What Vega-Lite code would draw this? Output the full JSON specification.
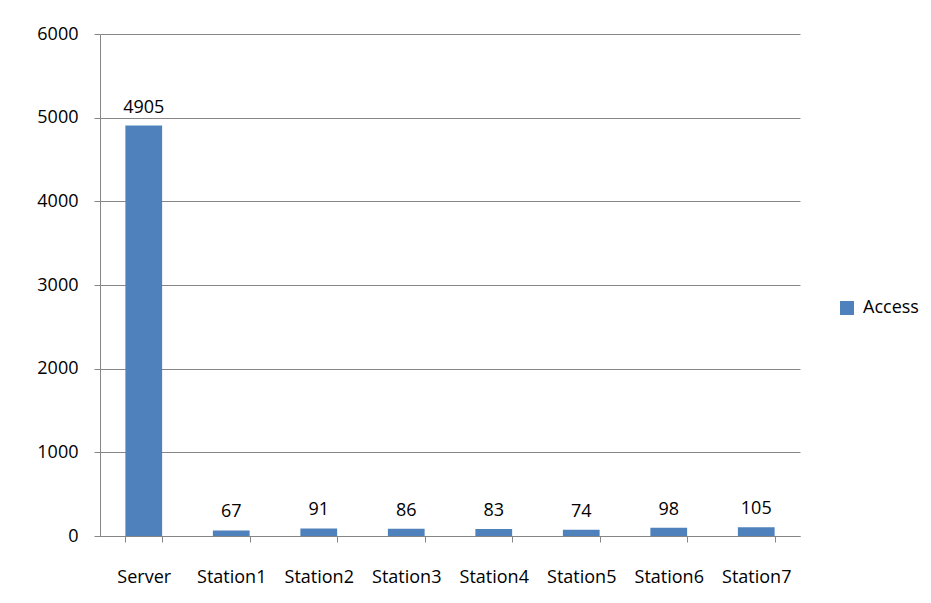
{
  "$schema": "https://vega.github.io/schema/vega-lite/v6.json",
  "width": 700,
  "height": 502,
  "autosize": {"type": "none"},
  "padding": {"left": 100, "top": 34, "right": 131, "bottom": 67},
  "background": "white",
  "config": {
    "view": {"stroke": null},
    "font": "Open Sans",
    "axis": {"labelFont": "Open Sans", "labelFontSize": 18, "labelColor": "#000000"}
  },
  "data": {
    "values": [
      {"name": "Server", "series": "Access", "value": 4905},
      {"name": "Station1", "series": "Access", "value": 67},
      {"name": "Station2", "series": "Access", "value": 91},
      {"name": "Station3", "series": "Access", "value": 86},
      {"name": "Station4", "series": "Access", "value": 83},
      {"name": "Station5", "series": "Access", "value": 74},
      {"name": "Station6", "series": "Access", "value": 98},
      {"name": "Station7", "series": "Access", "value": 105}
    ]
  },
  "encoding": {
    "x": {
      "field": "name",
      "type": "nominal",
      "sort": null,
      "scale": {"paddingInner": 0.58, "paddingOuter": 0.29},
      "axis": {
        "title": null,
        "labelAngle": 0,
        "domainColor": "#868686",
        "tickColor": "#868686",
        "tickBand": "extent",
        "tickSize": 6,
        "labelPadding": 26
      }
    },
    "y": {
      "field": "value",
      "type": "quantitative",
      "scale": {"domain": [0, 6000]},
      "axis": {
        "title": null,
        "values": [0, 1000, 2000, 3000, 4000, 5000, 6000],
        "format": "d",
        "domainColor": "#868686",
        "tickColor": "#868686",
        "gridColor": "#868686",
        "tickSize": 6,
        "labelPadding": 16
      }
    }
  },
  "layer": [
    {
      "mark": {"type": "bar", "color": "#4F81BD"},
      "encoding": {
        "color": {
          "field": "series",
          "type": "nominal",
          "scale": {"range": ["#4F81BD"]},
          "legend": {
            "title": null,
            "orient": "none",
            "legendX": 738,
            "legendY": 265,
            "symbolType": "square",
            "symbolSize": 196,
            "symbolStrokeWidth": 0,
            "labelFont": "Open Sans",
            "labelFontSize": 18,
            "labelColor": "#000000",
            "labelOffset": 7
          }
        }
      }
    },
    {
      "mark": {"type": "text", "baseline": "bottom", "dy": -9, "font": "Open Sans", "fontSize": 18, "color": "#000000"},
      "encoding": {"text": {"field": "value", "type": "quantitative", "format": "d"}}
    }
  ]
}
